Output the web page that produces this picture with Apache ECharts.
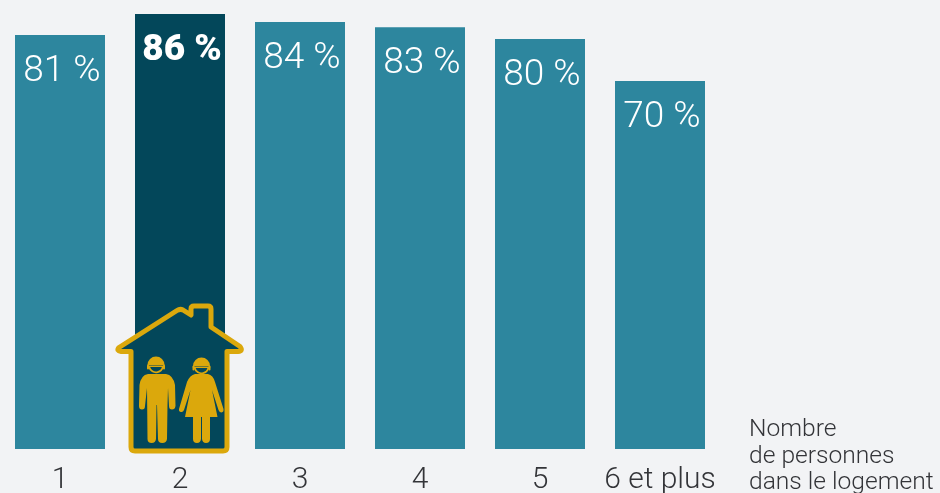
<!DOCTYPE html>
<html><head><meta charset="utf-8">
<script src="https://cdn.jsdelivr.net/npm/echarts@6/dist/echarts.min.js"></script>
<style>html,body{margin:0;padding:0;background:#f2f3f5}#c{width:940px;height:493px}</style></head>
<body><div id="c"></div>
<script>
const categories = ['1','2','3','4','5','6 et plus'];
const printedPercent = [81,86,84,83,80,70];
// Bar heights as drawn in the reference (they differ slightly from the printed labels)
const drawnHeights = [81.85,86,84.4,83.4,81.05,72.75];
const highlightIndex = 1;
const axisNote = 'Nombre\nde personnes\ndans le logement';

const BG='#f2f3f5', TEAL='#2d869e', DARK='#03475a', GOLD='#dba80c', INK='#333438';
const FONT='Roboto';
let shapeId=0;
function svgPath(d,fill,stroke,w){
  const name='iconPart'+(shapeId++);
  echarts.graphic.registerShape(name,echarts.graphic.extendPath(d));
  return {type:name,style:{fill:fill||'none',stroke:stroke||'none',lineWidth:w||0,lineJoin:'round',lineCap:'round'},z:10};
}
function helmet(cx,cy){
  return [
    svgPath(`M${cx-8.5} ${cy+1} A8.5 8.5 0 0 1 ${cx+8.5} ${cy+1} Z`,GOLD),
    svgPath(`M${cx-8} ${cy+2.2} L${cx+8} ${cy+2.2}`,null,GOLD,1.6),
    svgPath(`M${cx-6.8} ${cy+3} A7 7 0 0 0 ${cx+6.8} ${cy+3}`,null,GOLD,1.8),
    svgPath(`M${cx-8} ${cy+1.5} L${cx-8} ${cy+4.5}`,null,GOLD,2),
    svgPath(`M${cx+8} ${cy+1.5} L${cx+8} ${cy+4.5}`,null,GOLD,2)
  ];
}
const houseIcon=[
  svgPath('M119 347.5 L177 310.5 Q180 308.5 183 310 L191 315 L191 309 Q191 306 194 306 L208 306 Q211 306 211 309 L211 327 L240 346.5 Q243.5 351 238 351.5 L227 351.5 L227 447 Q227 451 223 451 L135 451 Q131 451 131 447 L131 351.5 L121 351.5 Q116 351 119 347.5 Z',DARK,GOLD,5),
  ...helmet(156,364),
  svgPath('M148 374 L166 374 Q173 375 175 385 L175.5 406 Q175 409.5 172 409.5 Q169 409.5 169 406 L168 388 L167.5 405 L167 439 Q166.5 443 162.3 443 Q158 443 158 439 L157 405 L156.5 405 L156 439 Q155.5 443 151.7 443 Q147.5 443 147.5 439 L147 388 L145 406 Q145 409.5 142 409.5 Q139 409.5 139 406 L139.5 385 Q141 375 148 374 Z',GOLD),
  ...helmet(201.5,365),
  svgPath('M195 374 L208 374 Q213 375 215 382 L223.5 409 Q224 412 221.5 412.5 Q219.5 412.5 218.5 410 L212 390 L217.5 417 L210 417 L210 439 Q210 443 206 443 Q202.5 443 202 439 L202 417 L201 417 L201 439 Q200.5 443 197 443 Q193 443 193 439 L193 417 L185 417 L190.5 390 L184 410 Q183 412.5 181 412 Q178.5 411.5 179 409 L187 382 Q190 375 195 374 Z',GOLD)
];

const chart=echarts.init(document.getElementById('c'),null,{renderer:'canvas'});
chart.setOption({
  backgroundColor:BG,
  animation:false,
  grid:{left:0,top:14,width:720,height:435,containLabel:false,outerBoundsMode:'none'},
  xAxis:{type:'category',data:categories,axisLine:{show:false},axisTick:{show:false},
    axisLabel:{color:INK,fontFamily:FONT,fontSize:30,fontWeight:300,margin:16,interval:0}},
  yAxis:{type:'value',min:0,max:86,show:false,splitLine:{show:false}},
  series:[{type:'bar',barWidth:90,
    data:drawnHeights.map((v,i)=>({value:v,itemStyle:{color:i===highlightIndex?DARK:TEAL},
      label:i===highlightIndex?{fontWeight:900,fontSize:37,distance:18}:{}})),
    label:{show:true,position:'insideTop',distance:18,color:'#fff',fontFamily:FONT,fontWeight:300,fontSize:37,offset:[2,0],
      formatter:o=>printedPercent[o.dataIndex]+' %'}}],
  graphic:[
    ...houseIcon,
    {type:'text',left:749,top:417,style:{text:axisNote,fill:INK,fontFamily:FONT,fontSize:24.6,fontWeight:300,lineHeight:26.5}}
  ]
});
</script></body></html>
